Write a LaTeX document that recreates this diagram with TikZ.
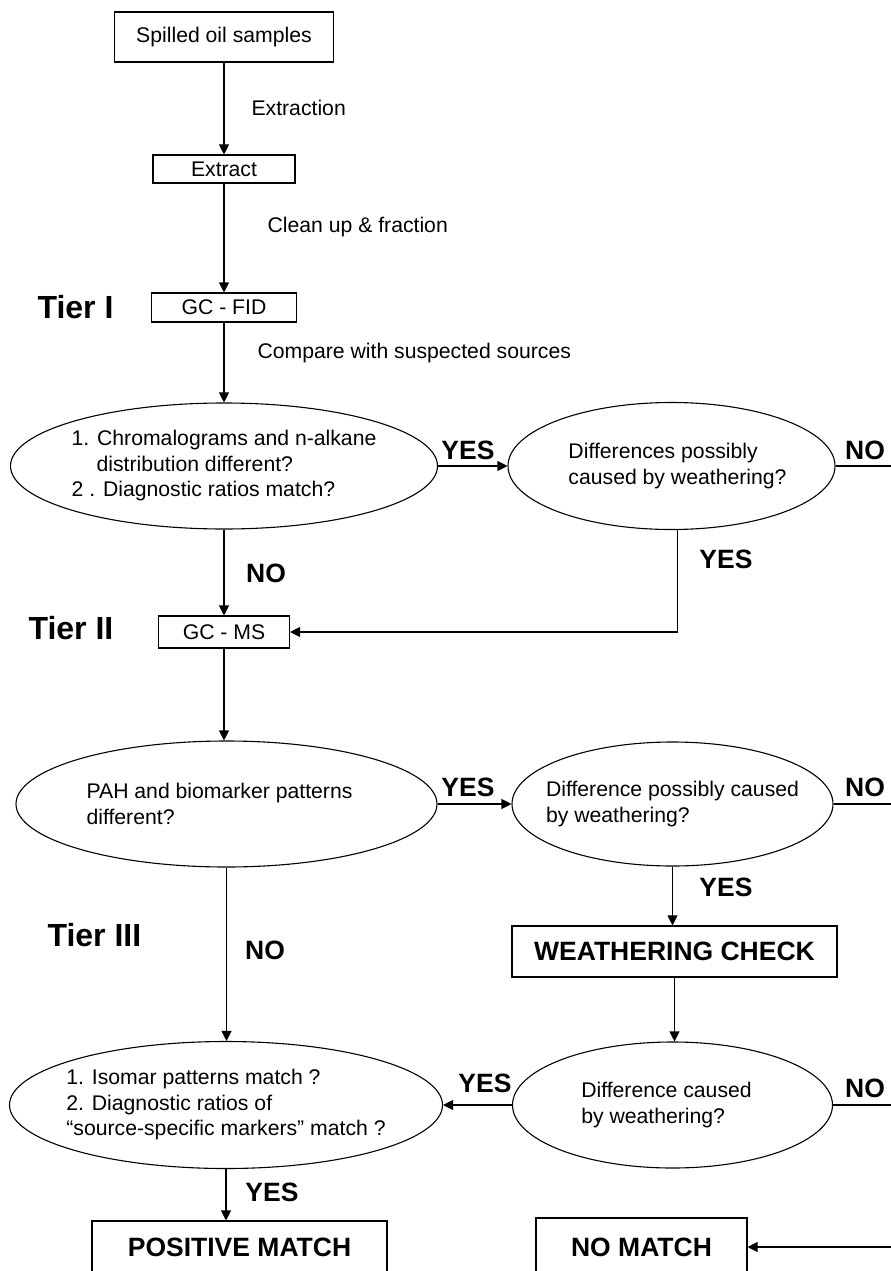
\documentclass[tikz,border=0pt]{standalone}
\usepackage{fontspec}
\setmainfont{Liberation Sans}
\usetikzlibrary{shapes.geometric,arrows.meta}
\begin{document}
\begin{tikzpicture}[
        x=1pt, y=-1pt,
        line width=1.1pt,
        >={Triangle[length=10pt,width=10pt]},
        boxNode/.style={rectangle, draw, inner sep=0pt, font={\fontsize{21.2}{25.5}\selectfont}},
        bigBox/.style={rectangle, draw, inner sep=0pt, font={\fontsize{26.5}{30}\selectfont\bfseries}},
        ellNode/.style={ellipse, draw, inner sep=0pt},
        ellText/.style={inner sep=0pt, align=left, font={\fontsize{21.2}{25.5}\selectfont}},
        stepText/.style={anchor=west, inner sep=0pt, font={\fontsize{21.2}{25.5}\selectfont}},
        answer/.style={inner sep=0pt, font={\fontsize{26.5}{30}\selectfont\bfseries}},
        tierText/.style={anchor=west, inner sep=0pt, font={\fontsize{32}{36}\selectfont\bfseries}}
    ]
        \useasboundingbox (0,0) rectangle (891,1271);
        \clip (0,0) rectangle (891,1271);

        % Sample preparation
        \node[boxNode, minimum width=219pt, minimum height=50pt] (spilled) at (224,37) {Spilled oil samples};
        \node[boxNode, minimum width=142pt, minimum height=28pt] (extract) at (224,169) {Extract};
        \node[boxNode, minimum width=145pt, minimum height=29pt] (gcfid) at (224,307.5) {GC - FID};

        % Tier I decisions
        \node[ellNode, minimum width=427pt, minimum height=126pt] (chrom) at (224,466) {};
        \node[ellText] (chromText) at (chrom) {1. Chromalograms and n-alkane\\\hspace*{25pt}distribution different?\\2 . Diagnostic ratios match?};
        \node[ellNode, minimum width=327pt, minimum height=127pt] (weathA) at (671.5,466) {};
        \node[ellText] (weathAText) at ([xshift=6pt]weathA) {Differences possibly\\caused by weathering?};

        % Tier II
        \node[boxNode, minimum width=131pt, minimum height=32pt] (gcms) at (224,632) {GC - MS};
        \node[ellNode, minimum width=421pt, minimum height=126pt] (pah) at (226.5,804) {};
        \node[ellText] (pahText) at ([xshift=-7pt]pah) {PAH and biomarker patterns\\different?};
        \node[ellNode, minimum width=321pt, minimum height=124pt] (weathB) at (672.5,804) {};
        \node[ellText] (weathBText) at (weathB) {Difference possibly caused\\by weathering?};
        \node[bigBox, minimum width=325pt, minimum height=51pt] (wcheck) at (674.5,951.5) {WEATHERING CHECK};

        % Tier III
        \node[ellNode, minimum width=433pt, minimum height=127pt] (isomar) at (226,1105) {};
        \node[ellText] (isomarText) at (isomar) {1. Isomar patterns match ?\\2. Diagnostic ratios of\\“source-specific markers” match ?};
        \node[ellNode, minimum width=320pt, minimum height=126pt] (weathC) at (672.5,1105) {};
        \node[ellText] (weathCText) at ([xshift=-6pt]weathC) {Difference caused\\by weathering?};

        % Results
        \node[bigBox, minimum width=295pt, minimum height=52pt] (posMatch) at (239.5,1247) {POSITIVE MATCH};
        \node[bigBox, minimum width=211pt, minimum height=58pt] (noMatch) at (641.5,1247) {NO MATCH};

        % Free ends at the right margin
        \coordinate (edgeA) at (891,466);
        \coordinate (edgeB) at (891,804);
        \coordinate (edgeC) at (891,1105);
        \coordinate (edgeD) at (891,1247);

        % Step labels
        \node[stepText] (extraction) at (251,108) {Extraction};
        \node[stepText] (cleanup) at (267,227) {Clean up \& fraction};
        \node[stepText] (compare) at (257,353) {Compare with suspected sources};

        % Tier labels
        \node[tierText] (tierI) at (37,307) {Tier I};
        \node[tierText] (tierII) at (28,628) {Tier II};
        \node[tierText] (tierIII) at (47,935) {Tier III};

        % Answer labels
        \node[answer] (yesA) at (468,450) {YES};
        \node[answer] (noA) at (865,450) {NO};
        \node[answer] (noB) at (266,573) {NO};
        \node[answer] (yesB) at (726,559) {YES};
        \node[answer] (yesC) at (468,787) {YES};
        \node[answer] (noC) at (865,787) {NO};
        \node[answer] (yesD) at (726,887) {YES};
        \node[answer] (noD) at (265,950) {NO};
        \node[answer] (yesE) at (485,1083) {YES};
        \node[answer] (noE) at (865,1088) {NO};
        \node[answer] (yesF) at (272,1192) {YES};

        % Edges
        \draw[->] (spilled) -- (extract);
        \draw[->] (extract) -- (gcfid);
        \draw[->] (gcfid) -- (chrom);
        \draw[->] (chrom) -- (weathA);
        \draw (weathA) -- (edgeA);
        \draw[->] (chrom) -- (gcms);
        \draw[->] ([xshift=6pt]weathA.south) |- (gcms.east);
        \draw[->] (gcms.south) -- (gcms.south |- pah.north);
        \draw[->] (pah) -- (weathB);
        \draw (weathB) -- (edgeB);
        \draw[->] (weathB.south) -- (weathB.south |- wcheck.north);
        \draw[->] (wcheck.south) -- (wcheck.south |- weathC.north);
        \draw[->] (weathC) -- (isomar);
        \draw (weathC) -- (edgeC);
        \draw[->] (pah.south) -- (pah.south |- isomar.north);
        \draw[->] (isomar.south) -- (isomar.south |- posMatch.north);
        \draw[->] (edgeD) -- (noMatch);
    \end{tikzpicture}
\end{document}
